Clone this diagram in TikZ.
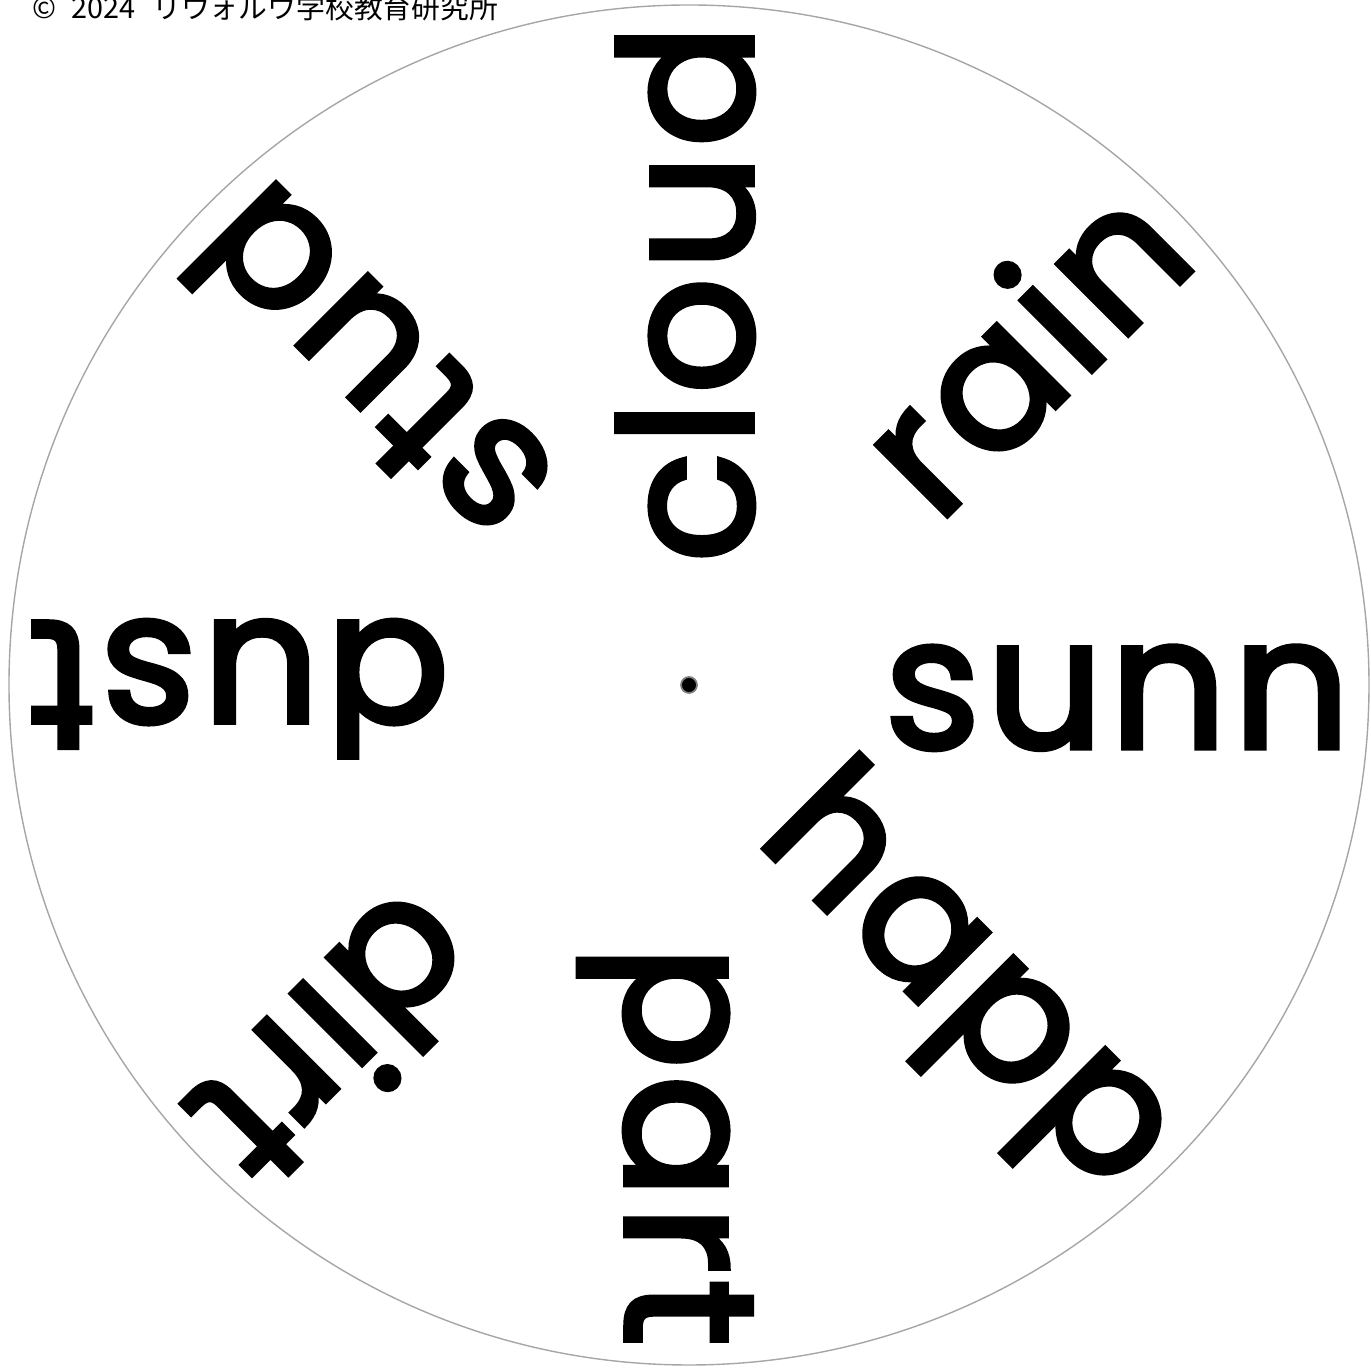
\documentclass[tikz,border=0pt]{standalone}
\usepackage{fontspec}
\setmainfont{Poppins}
\newfontfamily\wordfont{Poppins}[LetterSpace=3.5,FakeBold=3]
\newfontfamily\cjk{Noto Sans CJK JP}
\usetikzlibrary{calc}

\begin{document}
\begin{tikzpicture}[
  word/.style={anchor=base east, inner sep=0pt, font=\wordfont\fontsize{52pt}{60pt}\selectfont},
  rim/.style={draw=gray!70, line width=0.4pt},
  hub/.style={circle, fill=black, draw=gray, line width=0.5pt, minimum size=0.16cm, inner sep=0pt},
  credit/.style={anchor=base west, inner sep=0pt, font=\cjk\fontsize{8.2pt}{10pt}\selectfont}
]
\useasboundingbox (-6.89,-6.84) rectangle (6.82,6.85);
\draw[rim] (0,0) circle (6.8);
\node[hub] (pin) at (0,0) {};
% words, each read outward from the centre
\node[word, rotate=90]   (cloud) at ($(90:6.62)+(0:0.63)$) {cloud};
\node[word, rotate=45]   (rain)  at ($(45:6.62)+(-45:0.63)$) {rain};
\node[word, rotate=0]    (sunn)  at ($(0:6.62)+(-90:0.63)$) {sunn};
\node[word, rotate=-45]  (happ)  at ($(-45:6.62)+(-135:0.63)$) {happ};
\node[word, rotate=-90]  (part)  at ($(-90:6.62)+(180:0.63)$) {part};
\node[word, rotate=-135] (dirt)  at ($(-135:6.62)+(135:0.63)$) {dirt};
\node[word, rotate=180]  (dust)  at ($(180:6.62)+(90:0.63)$) {dust};
\node[word, rotate=135]  (stud)  at ($(135:6.62)+(45:0.63)$) {stud};
\node[credit] (copy) at (-6.57,6.66) {©\hspace{0.5em}2024\hspace{0.6em}リウォルウ学校教育研究所};
\end{tikzpicture}
\end{document}
